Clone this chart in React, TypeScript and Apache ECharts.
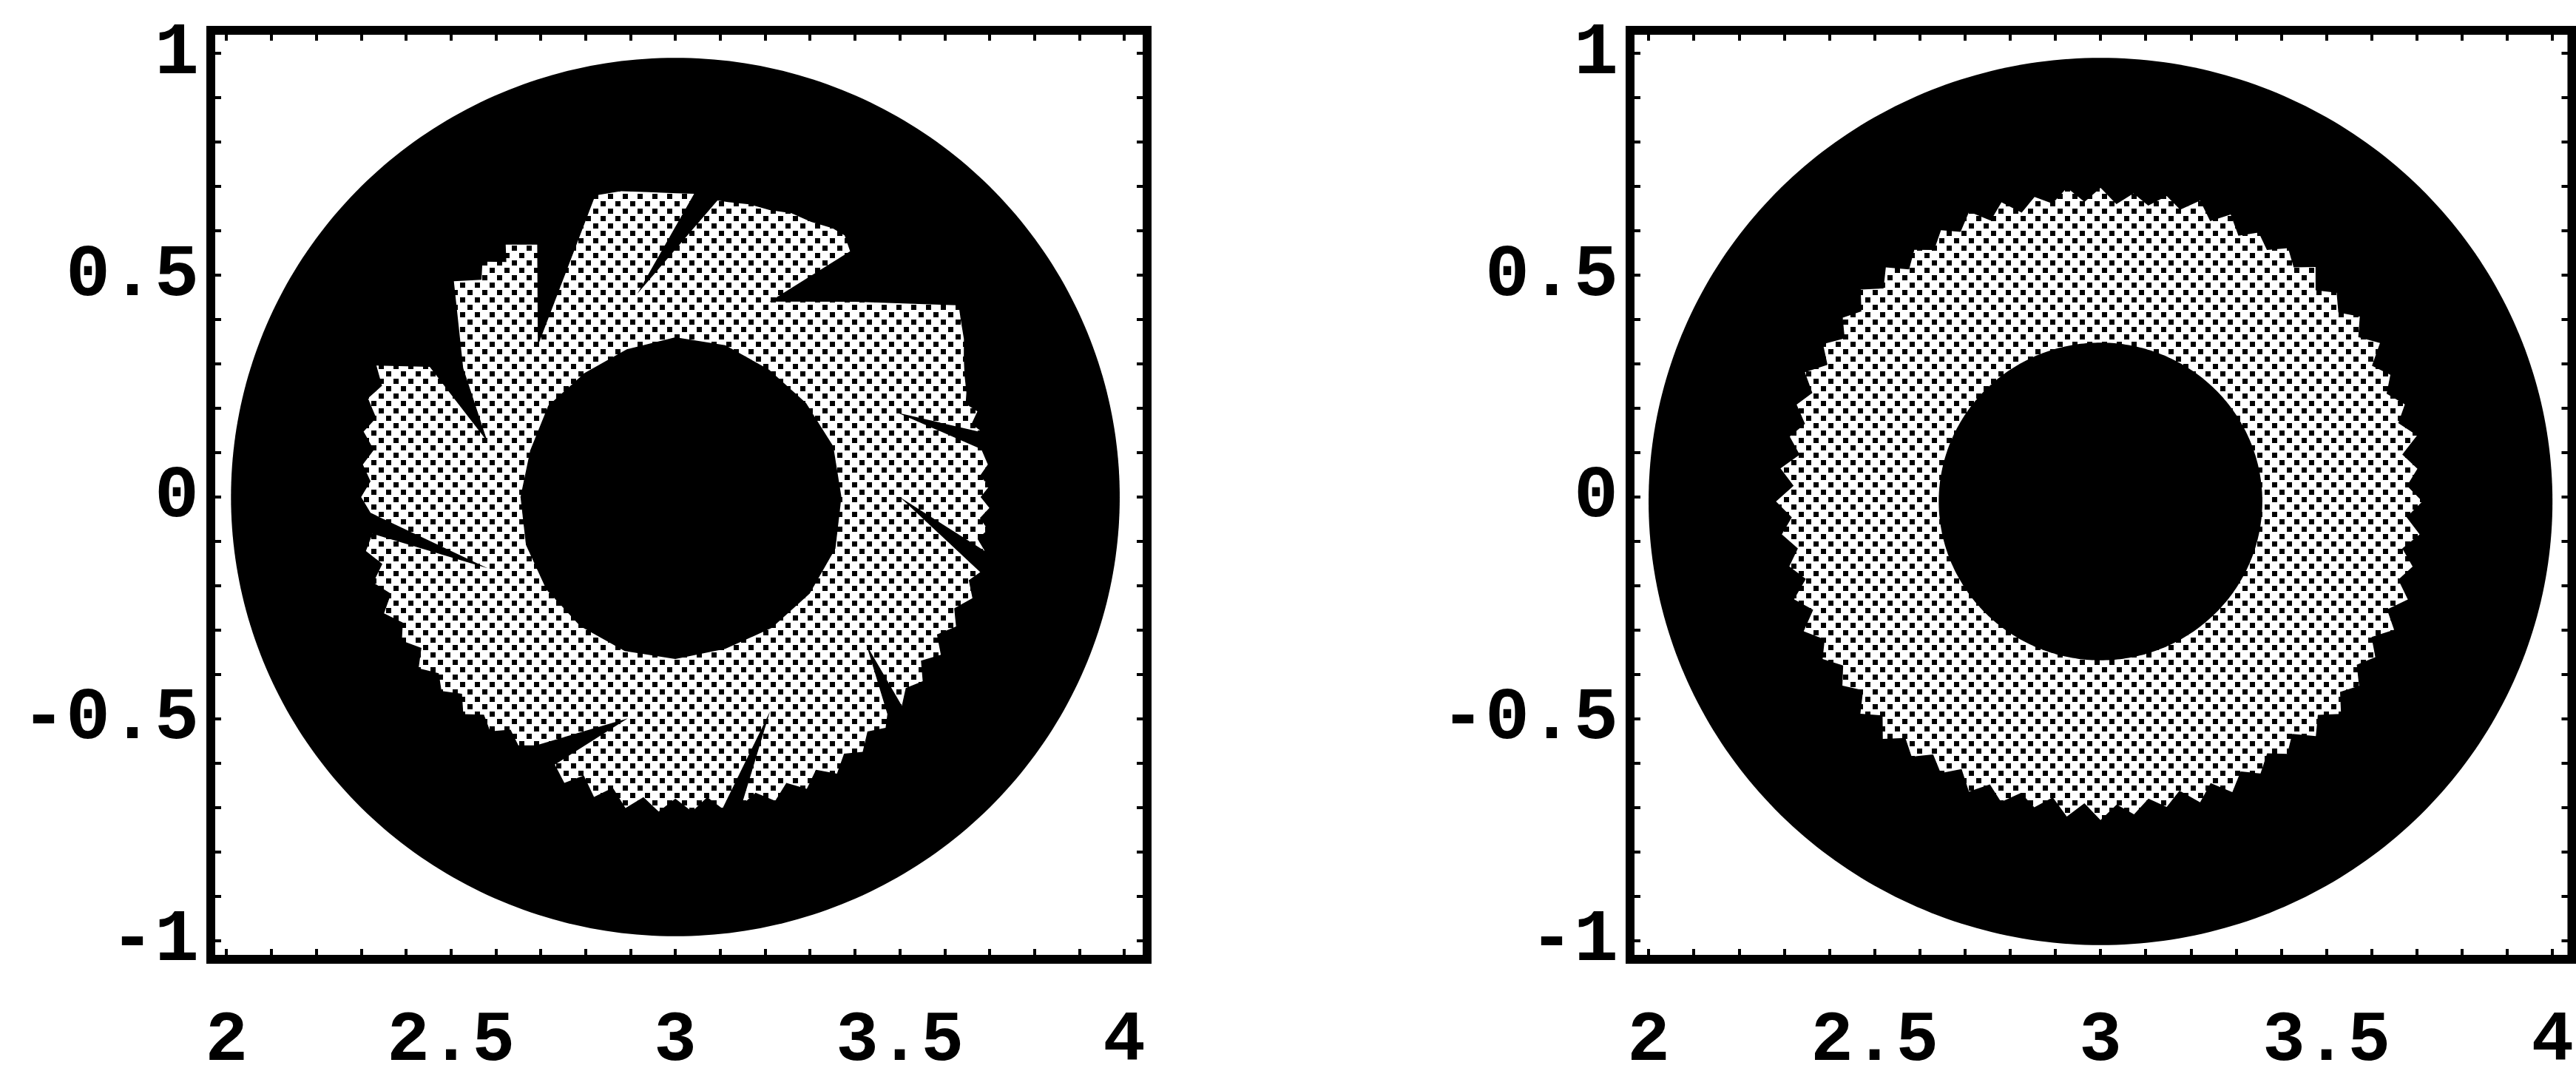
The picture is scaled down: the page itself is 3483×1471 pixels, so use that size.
import React, { useEffect, useRef } from "react";
import * as echarts from "echarts";

// Tick labels and tick positions shared by both panels
const xLabelValues = [2, 2.5, 3, 3.5, 4];
const yLabelValues = [-1, -0.5, 0, 0.5, 1];
const xTickValues = [2, 2.1, 2.2, 2.3, 2.4, 2.5, 2.6, 2.7, 2.8, 2.9, 3, 3.1, 3.2, 3.3, 3.4, 3.5, 3.6, 3.7, 3.8, 3.9, 4];
const yTickValues = [-1, -0.9, -0.8, -0.7, -0.6, -0.5, -0.4, -0.3, -0.2, -0.1, 0, 0.1, 0.2, 0.3, 0.4, 0.5, 0.6, 0.7, 0.8, 0.9, 1];

// Plot ranges
const leftXRange = [1.965, 4.051];
const rightXRange = [1.959, 4.043];
const yRange = [-1.042, 1.052];

// Disc centres and outer disc radii
const leftCenter = [3, 0];
const rightCenter = [3, -0.01];
const leftDiscRadius = 0.99;
const rightDiscRadius = 1.0;

// Left panel: outline of the shaded pinwheel region, [angle in degrees, radius]
const leftRegionOutline: [number, number][] = [
  [12, 0.7], [14, 0.68], [16, 0.7], [18, 0.68], [20, 0.69], [23, 0.7], [26, 0.715], [29, 0.735], [32, 0.75], [34.4, 0.765],
  [47.7, 0.595], [64.5, 0.488],
  [54.9, 0.677], [57.4, 0.7], [60, 0.7], [64, 0.69], [68, 0.69], [72, 0.68], [76, 0.68], [80, 0.675], [82, 0.675],
  [100.5, 0.466],
  [86.5, 0.685], [90, 0.685], [95, 0.69], [100, 0.7], [104.7, 0.703],
  [132, 0.458],
  [118.4, 0.647], [123.6, 0.683], [125.4, 0.65], [129, 0.683], [131.4, 0.653], [135.4, 0.693], [148.4, 0.555],
  [163.4, 0.437],
  [151.8, 0.621], [156, 0.729], [159, 0.7], [162, 0.72], [165, 0.69], [168, 0.71], [171, 0.68], [174, 0.7], [177, 0.68], [180, 0.7], [183, 0.68],
  [201, 0.448],
  [187, 0.68], [190, 0.7], [193, 0.67], [196, 0.7], [199, 0.67], [202, 0.7], [205, 0.67], [208, 0.69], [211, 0.66], [214, 0.69],
  [217, 0.66], [220, 0.68], [223, 0.65], [226, 0.68], [229, 0.65], [232, 0.67], [235, 0.64], [238, 0.66], [241, 0.64],
  [258, 0.51],
  [246, 0.66], [249, 0.69], [252, 0.66], [255, 0.7], [258, 0.67], [261, 0.71], [264, 0.68], [267, 0.71], [270, 0.68], [273, 0.71], [276, 0.68], [278.5, 0.71],
  [293.6, 0.527],
  [282, 0.71], [285, 0.69], [288, 0.72], [291, 0.69], [294, 0.72], [297, 0.69], [300, 0.72], [303, 0.69], [306, 0.71], [309, 0.68], [312, 0.7], [314, 0.68],
  [322, 0.54],
  [317, 0.69], [320, 0.67], [323, 0.69], [326, 0.66], [329, 0.69], [332, 0.66], [335, 0.69], [338, 0.67], [341, 0.7], [344, 0.68], [346, 0.7],
  [360, 0.5],
  [350, 0.7], [352, 0.68], [354, 0.7], [356, 0.68], [358, 0.7], [360, 0.68], [362, 0.7], [364, 0.68], [366, 0.7], [369, 0.69],
  [381, 0.53],
];

// Left panel: inner dark core, [angle in degrees, radius]
const leftCoreOutline: [number, number][] = [
  [0, 0.37], [18, 0.37], [36, 0.36], [54, 0.355], [72, 0.36], [90, 0.36], [108, 0.35], [126, 0.345], [144, 0.35], [162, 0.34],
  [180, 0.345], [198, 0.35], [216, 0.355], [234, 0.36], [252, 0.365], [270, 0.365], [288, 0.36], [306, 0.365], [324, 0.37], [342, 0.375],
];

// Right panel: serrated rim, tooth tip and root radii (60 teeth, 6 degrees apart)
const rightToothTips = [
  0.712, 0.705, 0.716, 0.708, 0.702, 0.714, 0.709, 0.703, 0.711, 0.706, 0.7, 0.708, 0.713, 0.704, 0.698, 0.707, 0.711, 0.702, 0.709, 0.715,
  0.706, 0.701, 0.71, 0.714, 0.705, 0.709, 0.716, 0.707, 0.703, 0.712, 0.718, 0.709, 0.704, 0.713, 0.719, 0.71, 0.706, 0.715, 0.72, 0.711,
  0.707, 0.716, 0.712, 0.705, 0.714, 0.718, 0.709, 0.704, 0.713, 0.717, 0.708, 0.703, 0.712, 0.716, 0.707, 0.702, 0.711, 0.715, 0.706, 0.71,
];
const rightToothRoots = [
  0.679, 0.676, 0.682, 0.678, 0.674, 0.68, 0.677, 0.673, 0.679, 0.676, 0.672, 0.677, 0.681, 0.675, 0.671, 0.676, 0.68, 0.674, 0.678, 0.682,
  0.676, 0.673, 0.679, 0.681, 0.675, 0.678, 0.683, 0.677, 0.674, 0.68, 0.684, 0.678, 0.675, 0.681, 0.685, 0.679, 0.676, 0.682, 0.686, 0.68,
  0.677, 0.683, 0.68, 0.675, 0.681, 0.684, 0.678, 0.675, 0.68, 0.683, 0.677, 0.674, 0.68, 0.682, 0.676, 0.673, 0.679, 0.682, 0.676, 0.678,
];
const rightToothStep = 6;
const rightCoreRadius = 0.358;

const FONT = "'Liberation Mono', 'DejaVu Sans Mono', monospace";

// Halftone tile used for the shaded regions
function makeDotTile(): HTMLCanvasElement {
  const c = document.createElement("canvas");
  c.width = 20;
  c.height = 20;
  const ctx = c.getContext("2d")!;
  ctx.fillStyle = "#ffffff";
  ctx.fillRect(0, 0, 20, 20);
  ctx.fillStyle = "#000000";
  ctx.fillRect(2, 2, 7, 7);
  ctx.fillRect(12, 12, 7, 7);
  return c;
}

type PolarList = [number, number][];

function polarSeries(axis: number, center: number[], outline: () => PolarList, fill: any, z: number) {
  return {
    type: "custom",
    coordinateSystem: "cartesian2d",
    xAxisIndex: axis,
    yAxisIndex: axis,
    silent: true,
    z,
    data: [center],
    renderItem: (_params: any, api: any) => {
      const cx = api.value(0);
      const cy = api.value(1);
      const points = outline().map(([deg, r]) => {
        const t = (deg * Math.PI) / 180;
        return api.coord([cx + r * Math.cos(t), cy + r * Math.sin(t)]);
      });
      return { type: "polygon", shape: { points }, style: { fill, stroke: null } };
    },
  };
}

function circleOutline(radius: number): PolarList {
  const pts: PolarList = [];
  for (let d = 0; d < 360; d += 1) pts.push([d, radius]);
  return pts;
}

function rightRimOutline(): PolarList {
  const pts: PolarList = [];
  rightToothTips.forEach((tip, i) => {
    pts.push([i * rightToothStep, tip]);
    pts.push([i * rightToothStep + rightToothStep / 2, rightToothRoots[i]]);
  });
  return pts;
}

function makeXAxis(gridIndex: number, range: number[], position: string, showLabels: boolean) {
  return {
    type: "value",
    gridIndex,
    min: range[0],
    max: range[1],
    position,
    axisLine: { show: false, onZero: false },
    splitLine: { show: false },
    axisTick: { show: true, inside: true, length: 14, customValues: xTickValues, lineStyle: { color: "#000", width: 4 } },
    axisLabel: {
      show: showLabels,
      customValues: xLabelValues,
      formatter: (v: number) => String(v),
      margin: 110,
      verticalAlign: "middle",
      lineHeight: 80,
      fontFamily: FONT,
      fontWeight: "bold",
      fontSize: 96,
      color: "#000",
    },
  };
}

function makeYAxis(gridIndex: number, position: string, showLabels: boolean) {
  return {
    type: "value",
    gridIndex,
    min: yRange[0],
    max: yRange[1],
    position,
    axisLine: { show: false, onZero: false },
    splitLine: { show: false },
    axisTick: { show: true, inside: true, length: 14, customValues: yTickValues, lineStyle: { color: "#000", width: 4 } },
    axisLabel: {
      show: showLabels,
      customValues: yLabelValues,
      formatter: (v: number) => String(v),
      margin: 16,
      padding: [14, 0, 0, 0],
      fontFamily: FONT,
      fontWeight: "bold",
      fontSize: 100,
      color: "#000",
    },
  };
}

export default function App() {
  const ref = useRef<HTMLDivElement>(null);

  useEffect(() => {
    if (!ref.current) return;
    const chart = echarts.init(ref.current, undefined, { renderer: "svg" });
    const tile = makeDotTile();
    const dots = { image: tile.toDataURL(), repeat: "repeat", imageWidth: 20, imageHeight: 20 };

    const gridStyle = { show: true, borderWidth: 12, borderColor: "#000", backgroundColor: "#fff" };

    chart.setOption({
      animation: false,
      backgroundColor: "#fff",
      grid: [
        { left: 285, top: 41, width: 1266, height: 1256, ...gridStyle },
        { left: 2204, top: 41, width: 1274, height: 1256, ...gridStyle },
      ],
      xAxis: [
        makeXAxis(0, leftXRange, "bottom", true),
        makeXAxis(1, rightXRange, "bottom", true),
        makeXAxis(0, leftXRange, "top", false),
        makeXAxis(1, rightXRange, "top", false),
      ],
      yAxis: [
        makeYAxis(0, "left", true),
        makeYAxis(1, "left", true),
        makeYAxis(0, "right", false),
        makeYAxis(1, "right", false),
      ],
      series: [
        polarSeries(0, leftCenter, () => circleOutline(leftDiscRadius), "#000", 1),
        polarSeries(0, leftCenter, () => leftRegionOutline, dots, 2),
        polarSeries(0, leftCenter, () => leftCoreOutline, "#000", 3),
        polarSeries(1, rightCenter, () => circleOutline(rightDiscRadius), "#000", 1),
        polarSeries(1, rightCenter, rightRimOutline, dots, 2),
        polarSeries(1, rightCenter, () => circleOutline(rightCoreRadius), "#000", 3),
      ],
    });

    return () => chart.dispose();
  }, []);

  return (
    <div
      ref={ref}
      style={{ position: "fixed", left: 0, top: 0, width: "3483px", height: "1471px", background: "#fff" }}
    />
  );
}
